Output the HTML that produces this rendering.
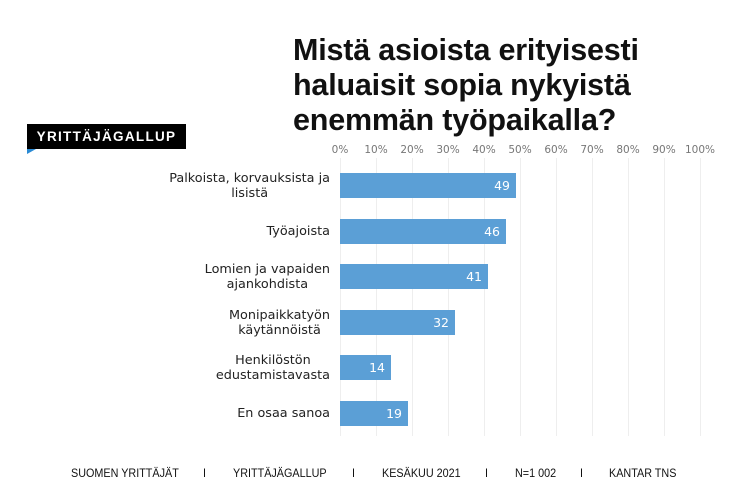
<!DOCTYPE html>
<html><head><meta charset="utf-8"><style>
body{margin:0;width:750px;height:499px;background:#fff;position:relative;overflow:hidden;font-family:"DejaVu Sans",sans-serif}
.t{position:absolute;left:293px;top:33px;font:bold 30.5px/35px "Liberation Sans",sans-serif;color:#111;letter-spacing:-0.2px}
.logo{position:absolute;left:27px;top:124px;width:159px;height:25px;background:#000;color:#fff;font:bold 13.5px/25px "Liberation Sans",sans-serif;text-align:center;letter-spacing:1.3px}
.tri{position:absolute;left:27px;top:149px;width:0;height:0;border-left:9px solid transparent;border-top:5px solid #2a8ad4;transform:scaleX(-1)}
.g{position:absolute;top:158px;height:278px;width:1px;background:#eee}
.tk{position:absolute;top:144px;width:40px;margin-left:-20px;text-align:center;font-size:10.5px;color:#777}
.b{position:absolute;left:340px;height:25px;background:#5b9fd6;color:#fff;font-size:12.5px;line-height:25px;text-align:right;box-sizing:border-box;padding-right:6px}
.l{position:absolute;right:420px;width:250px;text-align:right;font-size:12.8px;line-height:15px;color:#222}
.l span{display:inline-block;text-align:center}
.f{position:absolute;top:466px;font:12px "Liberation Sans",sans-serif;color:#111;transform:scaleX(0.9);transform-origin:left}
</style></head><body>
<div class="t">Mistä asioista erityisesti<br>haluaisit sopia nykyistä<br>enemmän työpaikalla?</div>
<div class="logo">YRITTÄJÄGALLUP</div><div class="tri"></div>
<div class="g" style="left:340px"></div><div class="g" style="left:376px"></div><div class="g" style="left:412px"></div><div class="g" style="left:448px"></div><div class="g" style="left:484px"></div><div class="g" style="left:520px"></div><div class="g" style="left:556px"></div><div class="g" style="left:592px"></div><div class="g" style="left:628px"></div><div class="g" style="left:664px"></div><div class="g" style="left:700px"></div>
<div class="tk" style="left:340px">0%</div><div class="tk" style="left:376px">10%</div><div class="tk" style="left:412px">20%</div><div class="tk" style="left:448px">30%</div><div class="tk" style="left:484px">40%</div><div class="tk" style="left:520px">50%</div><div class="tk" style="left:556px">60%</div><div class="tk" style="left:592px">70%</div><div class="tk" style="left:628px">80%</div><div class="tk" style="left:664px">90%</div><div class="tk" style="left:700px">100%</div>
<div class="b" style="top:173px;width:176px">49</div>
<div class="b" style="top:219px;width:166px">46</div>
<div class="b" style="top:264px;width:148px">41</div>
<div class="b" style="top:310px;width:115px">32</div>
<div class="b" style="top:355px;width:51px">14</div>
<div class="b" style="top:401px;width:68px">19</div>
<div class="l" style="top:171px"><span>Palkoista, korvauksista ja<br>lisistä</span></div>
<div class="l" style="top:224px"><span>Työajoista</span></div>
<div class="l" style="top:262px"><span>Lomien ja vapaiden<br>ajankohdista</span></div>
<div class="l" style="top:308px"><span>Monipaikkatyön<br>käytännöistä</span></div>
<div class="l" style="top:353px"><span>Henkilöstön<br>edustamistavasta</span></div>
<div class="l" style="top:406px"><span>En osaa sanoa</span></div>
<div class="f" style="left:71px">SUOMEN YRITTÄJÄT</div>
<div class="f" style="left:203px">I</div>
<div class="f" style="left:233px">YRITTÄJÄGALLUP</div>
<div class="f" style="left:352px">I</div>
<div class="f" style="left:382px">KESÄKUU 2021</div>
<div class="f" style="left:485px">I</div>
<div class="f" style="left:515px">N=1 002</div>
<div class="f" style="left:580px">I</div>
<div class="f" style="left:609px">KANTAR TNS</div>
</body></html>
